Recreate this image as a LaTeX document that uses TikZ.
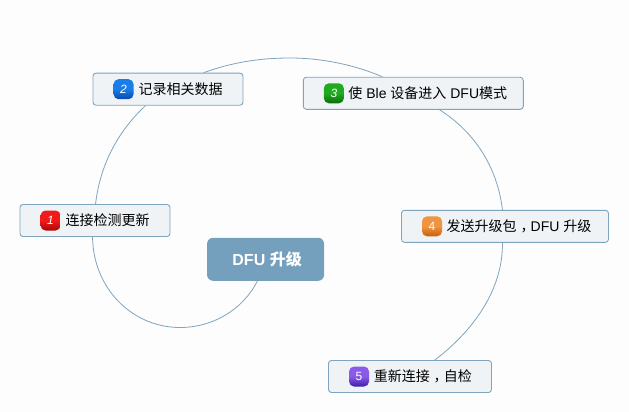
\documentclass[tikz,border=0pt]{standalone}
\usepackage{fontspec}
\setmainfont{Liberation Sans}
\newfontfamily\cjkf{Noto Sans CJK SC}
\newcommand{\zh}[1]{{\cjkf #1}}
\newcommand{\tlabel}[2]{\hspace*{#1pt}\raisebox{-1pt}{#2}}
\newcommand{\midcomma}{\hspace{4pt}，\hspace{-4pt}}
\usetikzlibrary{calc}
\definecolor{bgc}{HTML}{FDFDFE}
\definecolor{linec}{HTML}{7FA5BE}
\definecolor{boxc}{HTML}{EFF3F6}
\definecolor{rootc}{HTML}{74A0BD}
\definecolor{redt}{HTML}{F01A1A}\definecolor{redb}{HTML}{A50A0A}
\definecolor{blut}{HTML}{1A7DE8}\definecolor{blub}{HTML}{0A48B0}
\definecolor{grnt}{HTML}{1FAA1F}\definecolor{grnb}{HTML}{0A6E0A}
\definecolor{orat}{HTML}{EF9440}\definecolor{orab}{HTML}{C85F0C}
\definecolor{purt}{HTML}{8A5AE8}\definecolor{purb}{HTML}{3A1EA8}
\tikzset{
  link/.style={draw=linec,line width=0.8pt},
  topicbox/.style={draw=linec,line width=0.9pt,fill=boxc,rounded corners=3pt,minimum height=32pt,inner sep=0pt,font=\fontsize{14}{16}\selectfont,text=black},
  rootbox/.style={fill=rootc,rounded corners=6pt,minimum width=117pt,minimum height=43pt,inner sep=0pt,font=\fontsize{16}{18}\selectfont\bfseries,text=white},
  badge/.style n args={2}{rounded corners=5pt,minimum size=20pt,inner sep=0pt,top color=#1,bottom color=#2,middle color=#1,text=white,font=\fontsize{12}{14}\selectfont\itshape},
  uprightdigit/.style={font=\fontsize{12}{14}\selectfont\upshape},
}
\begin{document}
\begin{tikzpicture}[x=1pt,y=-1pt]
\fill[bgc] (0,0) rectangle (629,412);
\useasboundingbox (0,0) rectangle (629,412);
\node[rootbox] (root) at (265.6,259.3) {\hspace*{3pt}DFU \zh{升级}};
\node[topicbox,minimum width=150pt] (n1) at (95,220.5) {\tlabel{25}{\zh{连接检测更新}}};
\node[topicbox,minimum width=150pt] (n2) at (168,89.2) {\tlabel{25}{\zh{记录相关数据}}};
\node[topicbox,minimum width=220pt] (n3) at (413.3,93.3) {\tlabel{29}{\zh{使} Ble \zh{设备进入} DFU\zh{模式}}};
\node[topicbox,minimum width=207pt] (n4) at (505,226.3) {\tlabel{28}{\zh{发送升级包\midcomma}DFU \zh{升级}}};
\node[topicbox,minimum width=163pt] (n5) at (410,376.5) {\tlabel{25.5}{\zh{重新连接\midcomma 自检}}};
\node[badge={redt}{redb}] (b1) at ($(n1.west)+(31,0)$) {1};
\node[badge={blut}{blub}] (b2) at ($(n2.west)+(31,0)$) {2};
\node[badge={grnt}{grnb}] (b3) at ($(n3.west)+(31,0)$) {3};
\node[badge={orat}{orab},uprightdigit] (b4) at ($(n4.west)+(31,0)$) {4};
\node[badge={purt}{purb},uprightdigit] (b5) at ($(n5.west)+(31,0)$) {5};
\draw[link] ($(root.south west)+(50.5,0)$) .. controls (242.8,309.9) and (212.6,327.5) .. (180,327.5)
  .. controls (132,327.5) and (93,288) .. ($(n1.south west)+(73,0)$);
\draw[link] ($(n1.north west)+(76,0)$) .. controls (100,165) and (118,131) .. ($(n2.south west)+(53,0)$);
\draw[link] ($(n2.north west)+(111,0)$) .. controls (230,63) and (258,58) .. (290,58) .. controls (322,58) and (355,65) .. ($(n3.north west)+(79.7,0)$);
\draw[link] ($(n3.south west)+(136.7,0)$) .. controls (473,131) and (497,165) .. ($(n4.north west)+(101.4,0)$);
\draw[link] ($(n4.south west)+(101.4,0)$) .. controls (503,290) and (473,331) .. ($(n5.north west)+(106.7,0)$);
\end{tikzpicture}
\end{document}
